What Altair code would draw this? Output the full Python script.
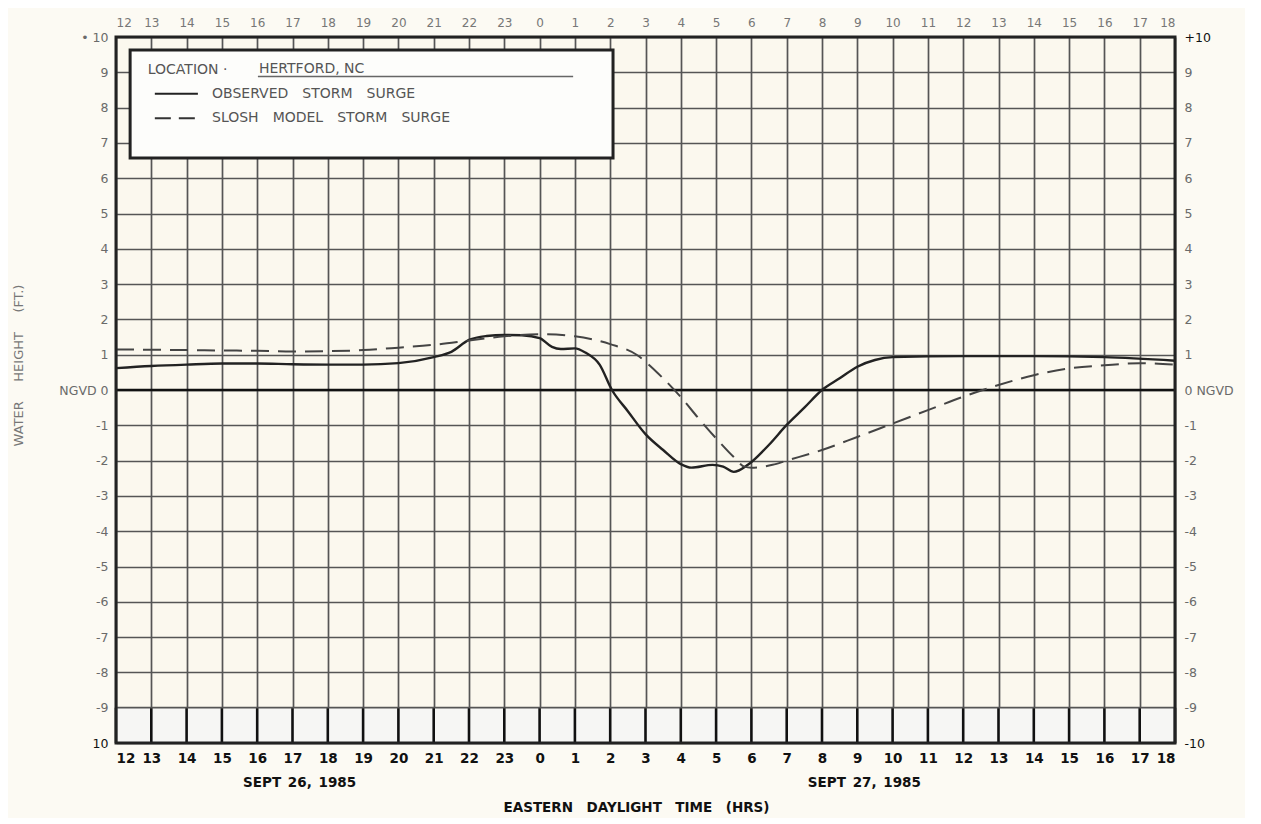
import json
import altair as alt
import pandas as pd

# ---- data (hours elapsed since 12:00 EDT, Sept 26 1985) ----
obs_hours = [0, 1, 2, 3, 4, 5, 6, 7, 8, 9, 9.5, 10, 10.5, 11, 11.5, 12, 12.35, 12.6, 13, 13.3,
             13.7, 14.05, 14.5, 15, 15.5, 16, 16.3, 16.9, 17.2, 17.5, 17.9, 18.5, 19, 19.5, 20,
             20.5, 21, 21.5, 22, 24, 26, 28, 30]
obs_ft = [0.62, 0.68, 0.72, 0.75, 0.75, 0.73, 0.72, 0.72, 0.76, 0.93, 1.08, 1.42, 1.53, 1.56, 1.55,
          1.47, 1.22, 1.16, 1.18, 1.06, 0.72, 0.0, -0.6, -1.25, -1.7, -2.1, -2.2, -2.12, -2.17, -2.32,
          -2.12, -1.55, -0.99, -0.5, 0.0, 0.33, 0.66, 0.85, 0.93, 0.96, 0.96, 0.93, 0.83]

slosh_hours = [0, 1, 2, 3, 4, 5, 6, 7, 8, 9, 10, 11, 12, 13, 14, 14.76, 15, 15.5, 16, 16.5, 17,
               17.5, 17.8, 18, 18.6, 19, 20, 21, 22, 23, 24, 25, 26, 27, 28, 29, 30]
slosh_ft = [1.15, 1.14, 1.13, 1.12, 1.11, 1.09, 1.1, 1.13, 1.2, 1.28, 1.4, 1.52, 1.58, 1.52, 1.3,
            0.99, 0.8, 0.33, -0.2, -0.8, -1.37, -1.9, -2.17, -2.2, -2.12, -2.0, -1.7, -1.33, -0.95,
            -0.57, -0.19, 0.14, 0.42, 0.61, 0.7, 0.76, 0.72]

hour_ticks = list(range(31))
hour_labels = ["12", "13", "14", "15", "16", "17", "18", "19", "20", "21", "22", "23",
               "0", "1", "2", "3", "4", "5", "6", "7", "8", "9", "10", "11",
               "12", "13", "14", "15", "16", "17", "18"]
ft_ticks = list(range(-10, 11))
left_labels = ["10", "-9", "-8", "-7", "-6", "-5", "-4", "-3", "-2", "-1", "NGVD 0",
               "1", "2", "3", "4", "5", "6", "7", "8", "9", "\u2022 10"]
right_labels = ["-10", "-9", "-8", "-7", "-6", "-5", "-4", "-3", "-2", "-1", "0 NGVD",
                "1", "2", "3", "4", "5", "6", "7", "8", "9", "+10"]
SP = "\u2002"
date_labels = ["SEPT" + SP + "26," + SP + "1985", "SEPT" + SP + "27," + SP + "1985"]
legend_location = "LOCATION \u00b7"
legend_place = "HERTFORD, NC"
series_names = ["OBSERVED" + SP + SP + "STORM" + SP + SP + "SURGE",
                "SLOSH" + SP + SP + "MODEL" + SP + SP + "STORM" + SP + SP + "SURGE"]
x_title = "EASTERN" + SP + SP + "DAYLIGHT" + SP + SP + "TIME" + SP + SP + "(HRS)"
y_title = "WATER" + SP + SP + SP + "HEIGHT" + SP + SP + SP + "(FT.)"

obs_df = pd.DataFrame({"h": obs_hours, "ft": obs_ft})
slosh_df = pd.DataFrame({"h": slosh_hours, "ft": slosh_ft})

FONT = "DejaVu Sans"
xs = alt.Scale(domain=[0, 30], nice=False, zero=False)
ys = alt.Scale(domain=[-10, 10], nice=False, zero=False)


def lab_expr(labels, offset=0):
    return json.dumps(labels) + "[datum.value + %d]" % offset


def X(field="h", axis=None):
    return alt.X(field, type="quantitative", scale=xs, axis=axis, title=None)


def Y(field="ft", axis=None):
    return alt.Y(field, type="quantitative", scale=ys, axis=axis, title=None)


axis_bottom = alt.Axis(orient="bottom", values=hour_ticks, labelExpr=lab_expr(hour_labels),
                       grid=True, gridColor="#555", gridWidth=1.7, gridOpacity=1,
                       ticks=False, domain=False, labelFont=FONT, labelFontWeight="bold",
                       labelFontSize=13.5, labelColor="#111", labelPadding=8,
                       title=x_title, titleFont=FONT,
                       titleFontSize=13.5, titleFontWeight="bold", titleColor="#111",
                       titleX=520, titleY=57)
axis_left = alt.Axis(orient="left", values=ft_ticks, labelExpr=lab_expr(left_labels, 10),
                     grid=True, gridColor="#555", gridWidth=1.7, gridOpacity=1,
                     ticks=False, domain=False, labelFont=FONT, labelFontSize=12.5,
                     labelColor={"condition": {"test": "datum.value == -10", "value": "#111"},
                                 "value": "#6a6a6a"},
                     labelPadding=8,
                     title=y_title, titleFont=FONT, titleFontSize=13,
                     titleFontWeight="normal", titleColor="#777", titleX=-98, titleY=328,
                     titleBaseline="middle")
axis_top = alt.Axis(orient="top", values=hour_ticks, labelExpr=lab_expr(hour_labels),
                    grid=False, ticks=False, domain=False, labelFont=FONT, labelFontSize=12,
                    labelColor="#777", labelPadding=8, title=None)
axis_right = alt.Axis(orient="right", values=ft_ticks, labelExpr=lab_expr(right_labels, 10),
                      grid=False, ticks=False, domain=False, labelFont=FONT, labelFontSize=12.5,
                      labelColor={"condition": {"test": "abs(datum.value) == 10", "value": "#111"},
                                  "value": "#6a6a6a"},
                      labelPadding=9, title=None)

# bottom band (-10 .. -9)
band = alt.Chart(pd.DataFrame({"a": [0], "b": [30], "lo": [-10], "hi": [-9]})).mark_rect(
    fill="#f6f6f4").encode(x=X("a"), x2="b", y=Y("lo"), y2="hi")
band_rules = alt.Chart(pd.DataFrame({"h": hour_ticks, "lo": -10, "hi": -9})).mark_rule(
    color="#111", strokeWidth=2.6).encode(x=X("h"), y=Y("lo"), y2="hi")
line_m9 = alt.Chart(pd.DataFrame({"v": [-9]})).mark_rule(color="#555", strokeWidth=1.7).encode(
    y=Y("v"))
zero = alt.Chart(pd.DataFrame({"v": [0]})).mark_rule(color="#111", strokeWidth=2.4).encode(y=Y("v"))

# legend box
box = alt.Chart(pd.DataFrame({"a": [0.4], "b": [14.08], "lo": [6.57], "hi": [9.63]})).mark_rect(
    fill="#fdfdfb", stroke="#222", strokeWidth=3).encode(x=X("a"), x2="b", y=Y("lo"), y2="hi")
loc_txt = alt.Chart(pd.DataFrame({"h": [0.9], "v": [9.07], "t": [legend_location]})).mark_text(
    align="left", baseline="middle", font=FONT, fontSize=14, color="#555").encode(
    x=X("h"), y=Y("v"), text="t:N")
place_txt = alt.Chart(pd.DataFrame({"h": [4.05], "v": [9.1], "t": [legend_place]})).mark_text(
    align="left", baseline="middle", font=FONT, fontSize=14, color="#555").encode(
    x=X("h"), y=Y("v"), text="t:N")
underline = alt.Chart(pd.DataFrame({"a": [4.02], "b": [12.95], "v": [8.88]})).mark_rule(
    color="#666", strokeWidth=1.6).encode(x=X("a"), x2="b", y=Y("v"))
sample_solid = alt.Chart(pd.DataFrame({"a": [1.1], "b": [2.32], "v": [8.39]})).mark_rule(
    color="#222", strokeWidth=2).encode(x=X("a"), x2="b", y=Y("v"))
sample_dash = alt.Chart(pd.DataFrame({"a": [1.1], "b": [2.32], "v": [7.7]})).mark_rule(
    color="#333", strokeWidth=2, strokeDash=[16, 8]).encode(x=X("a"), x2="b", y=Y("v"))
names_txt = alt.Chart(pd.DataFrame({"h": [2.72, 2.72], "v": [8.39, 7.7], "t": series_names})).mark_text(
    align="left", baseline="middle", font=FONT, fontSize=14, color="#555").encode(
    x=X("h"), y=Y("v"), text="t:N")

# date labels below the axis
dates = alt.Chart(pd.DataFrame({"h": [5.2, 21.2], "v": [-11.12, -11.12], "t": date_labels})).mark_text(
    align="center", baseline="middle", font=FONT, fontSize=13.5, fontWeight="bold",
    color="#111").encode(x=X("h"), y=Y("v"), text="t:N")

obs_line = alt.Chart(obs_df).mark_line(color="#222", strokeWidth=2.4, interpolate="monotone").encode(
    x=X("h", axis_bottom), y=Y("ft", axis_left))
slosh_line = alt.Chart(slosh_df).mark_line(color="#444", strokeWidth=2, strokeDash=[18, 9],
                                           interpolate="monotone").encode(
    x=X("h", axis_top), y=Y("ft", axis_right))

frame = alt.Chart(pd.DataFrame({"a": [0], "b": [30], "lo": [-10], "hi": [10]})).mark_rect(
    fillOpacity=0, stroke="#222", strokeWidth=3).encode(x=X("a"), x2="b", y=Y("lo"), y2="hi")

chart = alt.layer(
    band, band_rules, line_m9, zero, box, loc_txt, place_txt, underline,
    sample_solid, sample_dash, names_txt, dates, obs_line, slosh_line, frame
).resolve_axis(x="independent", y="independent").properties(
    width=1059, height=706,
    autosize=alt.AutoSizeParams(type="none"),
    padding={"left": 108, "top": 29, "right": 70, "bottom": 75},
    background="#fcfaf3",
).configure_view(stroke=None, fill="#fbf8ee")

chart.save("out.html", embed_options={"renderer": "svg", "actions": False})
